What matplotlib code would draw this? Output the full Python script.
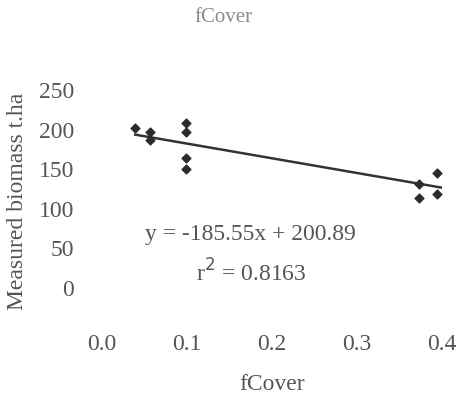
import numpy as np
import matplotlib
matplotlib.use("Agg")
import matplotlib.pyplot as plt

# data
fcover  = [0.039, 0.056, 0.056, 0.099, 0.099, 0.099, 0.099,
           0.373, 0.373, 0.394, 0.394]
biomass = [202, 197, 187, 208, 197, 164, 150,
           131, 114, 145, 119]
slope, intercept = -185.55, 200.89
r2 = 0.8163
x_ticks = [0.0, 0.1, 0.2, 0.3, 0.4]
y_ticks = [0, 50, 100, 150, 200, 250]

W, H = 459, 394
plt.rcParams['font.family'] = ['Liberation Serif', 'DejaVu Serif']
txt_col = '#555555'

fig = plt.figure(figsize=(W / 100, H / 100), dpi=100)
ax = fig.add_axes([102 / W, (H - 288) / H, 340 / W, 198 / H])

ax.scatter(fcover, biomass, marker='D', s=20, color='#2b2b2b', zorder=3)

# fitted line
xl = np.array([min(fcover), 0.40])
ax.plot(xl, slope * xl + intercept, color='#333333', linewidth=1.8)

ax.set_xlim(0, 0.4)
ax.set_ylim(0, 250)
ax.set_xticks(x_ticks)
ax.set_xticklabels([f'{v:.1f}' for v in x_ticks])
ax.set_yticks(y_ticks)
for s in ax.spines.values():
    s.set_visible(False)
ax.tick_params(axis='both', length=0, labelsize=17, labelcolor=txt_col)
ax.tick_params(axis='x', pad=33)
ax.tick_params(axis='y', pad=20)

ax.text(0.175, 68, f'y = {slope:.2f}x + {intercept:.2f}',
        ha='center', va='center', fontsize=17, color=txt_col)
ax.text(0.175, 19, f'r$^2$ = {r2:.4f}',
        ha='center', va='center', fontsize=17, color=txt_col)

fig.text(223 / W, 1 - 18 / H, 'fCover', ha='center', va='center',
         fontsize=15, color='#8a8a8a')
fig.text(272 / W, 1 - 385 / H, 'fCover', ha='center', va='center',
         fontsize=17, color=txt_col)
fig.text(18 / W, 1 - 310 / H, 'Measured biomass t.ha', rotation=90,
         ha='center', va='bottom', fontsize=17, color=txt_col)

fig.savefig('out.png', dpi=100, facecolor='white')
